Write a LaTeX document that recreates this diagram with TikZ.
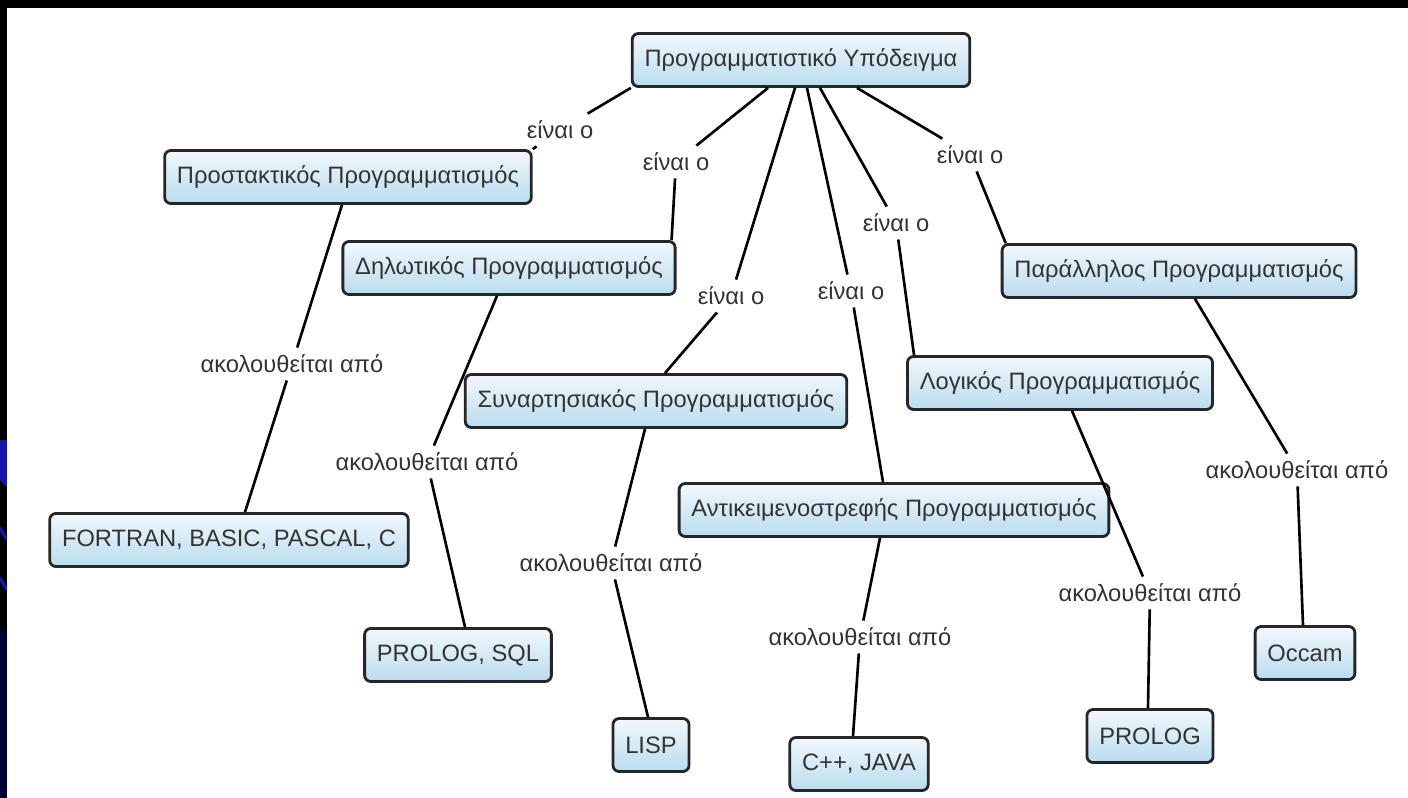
\documentclass[tikz,border=0pt]{standalone}
\usepackage{fontspec}
\setmainfont{Liberation Sans}
\usetikzlibrary{positioning}
\definecolor{cmline}{HTML}{262626}
\definecolor{cmtext}{HTML}{333333}
\definecolor{cmtop}{HTML}{F2F8FC}
\definecolor{cmbot}{HTML}{B9DCEE}
\definecolor{cmstripe}{HTML}{1414A8}
\definecolor{cmnavy}{HTML}{000038}
\tikzset{
  every picture/.style={line join=round},
  concept/.style={rectangle, rounded corners=3.5pt, draw=cmline, line width=1.6pt,
    top color=cmtop, bottom color=cmbot, text=cmtext,
    font=\fontsize{13.5}{16}\selectfont, inner xsep=7pt, minimum height=1.06cm},
  phrase/.style={text=cmtext, font=\fontsize{13.5}{16}\selectfont, inner sep=4pt},
  link/.style={draw=black, line width=1.5pt},
}

\begin{document}
\begin{tikzpicture}
\useasboundingbox (0,0) rectangle (28.16,-15.96);

% ---- frame of the slide
\fill[black] (0,0) rectangle (28.16,-15.96);
\fill[cmnavy] (0,-12.6) rectangle (0.14,-15.96);
\fill[cmstripe] (0,-8.8) -- (0.14,-8.8) -- (0.14,-9.75) -- (0,-9.6) -- cycle;
\draw[cmstripe, line width=2pt] (0,-10.55) -- (0.14,-10.8);
\draw[cmstripe, line width=2pt] (0,-11.55) -- (0.14,-11.8);
\fill[white] (0.14,-0.16) rectangle (28.16,-15.96);

% ---- concepts
\node[concept] (root) at (16.02, -1.20)  {Προγραμματιστικό Υπόδειγμα};
\node[concept] (pros) at (6.96, -3.54)   {Προστακτικός Προγραμματισμός};
\node[concept] (dilo) at (10.18, -5.36)  {Δηλωτικός Προγραμματισμός};
\node[concept] (syn)  at (13.12, -8.02)  {Συναρτησιακός Προγραμματισμός};
\node[concept] (ant)  at (17.88, -10.20) {Αντικειμενοστρεφής Προγραμματισμός};
\node[concept] (log)  at (21.20, -7.66)  {Λογικός Προγραμματισμός};
\node[concept] (par)  at (23.58, -5.42)  {Παράλληλος Προγραμματισμός};

\node[concept] (fort) at (4.58, -10.80)  {FORTRAN, BASIC, PASCAL, C};
\node[concept] (psql) at (9.16, -13.10)  {PROLOG, SQL};
\node[concept] (lisp) at (13.02, -14.90) {LISP};
\node[concept] (cpp)  at (17.18, -15.28) {C++, JAVA};
\node[concept] (prol) at (23.00, -14.72) {PROLOG};
\node[concept] (occ)  at (26.10, -13.06) {Occam};

% ---- linking phrases
\node[phrase] (e1) at (11.20, -2.60) {είναι ο};
\node[phrase] (e2) at (13.52, -3.24) {είναι ο};
\node[phrase] (e3) at (14.62, -5.92) {είναι ο};
\node[phrase] (e4) at (17.02, -5.82) {είναι ο};
\node[phrase] (e5) at (17.92, -4.46) {είναι ο};
\node[phrase] (e6) at (19.40, -3.10) {είναι ο};

\node[phrase] (a1) at (5.84, -7.28)   {ακολουθείται από};
\node[phrase] (a2) at (8.54, -9.24)   {ακολουθείται από};
\node[phrase] (a3) at (12.22, -11.26) {ακολουθείται από};
\node[phrase] (a4) at (17.20, -12.74) {ακολουθείται από};
\node[phrase] (a5) at (23.00, -11.86) {ακολουθείται από};
\node[phrase] (a6) at (25.94, -9.40)  {ακολουθείται από};

% ---- root to its kinds of paradigm
\draw[link] (root.south west) -- (e1) -- (pros.north east);
\draw[link] ([xshift=-0.66cm]root.south) -- (e2) -- ([xshift=-0.1cm]dilo.north east);
\draw[link] ([xshift=-0.12cm]root.south) -- (e3) -- ([xshift=0.18cm]syn.north);
\draw[link] ([xshift=0.12cm]root.south) -- (e4) -- ([xshift=-0.22cm]ant.north);
\draw[link] ([xshift=0.38cm]root.south) -- (e5) -- ([xshift=0.16cm]log.north west);
\draw[link] ([xshift=1.12cm]root.south) -- (e6) -- ([xshift=0.1cm]par.north west);

% ---- paradigms to their languages
\draw[link] ([xshift=-0.12cm]pros.south) -- (a1) -- ([xshift=0.32cm]fort.north);
\draw[link] ([xshift=-0.24cm]dilo.south) -- (a2) -- ([xshift=0.14cm]psql.north);
\draw[link] ([xshift=-0.22cm]syn.south) -- (a3) -- ([xshift=-0.06cm]lisp.north);
\draw[link] ([xshift=-0.28cm]ant.south) -- (a4) -- ([xshift=-0.12cm]cpp.north);
\draw[link] ([xshift=0.24cm]log.south) -- (a5) -- ([xshift=-0.04cm]prol.north);
\draw[link] ([xshift=0.32cm]par.south) -- (a6) -- ([xshift=-0.04cm]occ.north);

\end{tikzpicture}
\end{document}
